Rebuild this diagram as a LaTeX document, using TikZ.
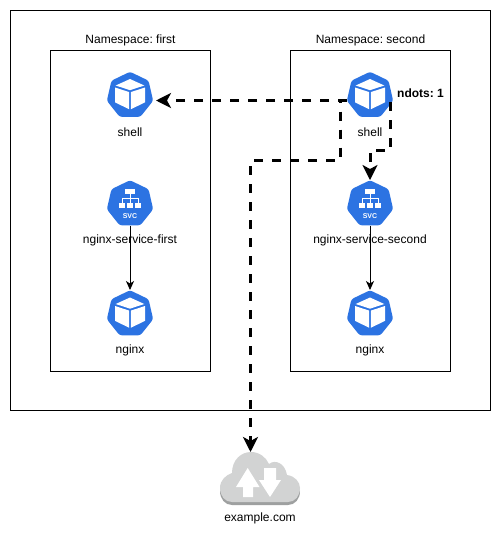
\documentclass[tikz,border=0pt]{standalone}
\usepackage{fontspec}
\setmainfont{Liberation Sans}
\frenchspacing
\definecolor{k8sblue}{RGB}{44,115,226}
\definecolor{cloudgrey}{RGB}{210,211,211}
\definecolor{cloudedge}{RGB}{158,160,160}
\usetikzlibrary{positioning,shapes.geometric,arrows.meta}

\tikzset{
  pics/podcube/.style={code={
    \fill[white] (0,-16.5) -- (14.3,-10) -- (0,-5.3) -- (-14.3,-10) -- cycle;
    \fill[white] (-15,-8) -- (-.8,-3.4) -- (-.8,13.8) -- (-15,6.8) -- cycle;
    \fill[white] (15,-8) -- (.8,-3.4) -- (.8,13.8) -- (15,6.8) -- cycle;
  }},
  pics/svctree/.style={code={
    \fill[white] (-4.6,-14.6) rectangle (4.6,-9.6);
    \foreach \x in {-8,0,8}
      \fill[white] (\x-2.9,-1) rectangle (\x+2.9,4.4);
    \draw[white,line width=.8pt] (0,-9.6) -- (0,-1) (-8,-1) -- (-8,-5.4) -- (8,-5.4) -- (8,-1);
    \node[white,inner sep=0,font=\bfseries\fontsize{7}{7}\selectfont] (svctext) at (0,11.6) {SVC};
  }},
  pics/cloudbody/.style={code={
    \fill (232,502) .. controls (225,502) and (220,496) .. (220,488)
      .. controls (220,480) and (226,475) .. (232,473)
      .. controls (232,460) and (241,452) .. (251,452)
      .. controls (259,452) and (266,457) .. (269,464)
      .. controls (275,459) and (285,463) .. (287,475)
      .. controls (295,476) and (300,482) .. (300,488)
      .. controls (300,496) and (295,502) .. (288,502) -- cycle;
  }}
}

\begin{document}
\begin{tikzpicture}[x=1pt,y=-1pt,
  every node/.style={font=\fontsize{12}{14}\selectfont},
  boxnode/.style={draw,line width=1pt,inner sep=0},
  iconnode/.style={regular polygon,regular polygon sides=7,fill=k8sblue,
    minimum size=47.5pt,inner sep=0,rounded corners=2.5pt},
  flow/.style={line width=.9pt,-{Stealth[length=9pt,width=8pt,inset=2.5pt]}},
  dashflow/.style={line width=3pt,dash pattern=on 9pt off 9pt,
    -{Stealth[length=15pt,width=15pt,inset=4pt]}},
  arrowshape/.style={fill=white}
]
\useasboundingbox (0,0) rectangle (502,536);

% Boxes
\node[boxnode,minimum width=480pt,minimum height=400pt] (cluster) at (250.5,210.5) {};
\node[boxnode,minimum width=160pt,minimum height=321pt,
  label={[yshift=-.5pt]above:Namespace: first}] (nsfirst) at (130.5,210.5) {};
\node[boxnode,minimum width=160pt,minimum height=321pt,
  label={[yshift=-.5pt]above:Namespace: second}] (nssecond) at (370.5,210.5) {};

% Namespace: first
\node[iconnode] (shellfirst) at (130,95.5) {};
\node[iconnode] (svcfirst) at (130,204) {};
\node[iconnode] (podfirst) at (130,314) {};
\pic at (shellfirst) {podcube};
\pic at (svcfirst) {svctree};
\pic at (podfirst) {podcube};

% Namespace: second
\node[iconnode] (shellsecond) at (370,95.5) {};
\node[iconnode] (svcsecond) at (370,204) {};
\node[iconnode] (podsecond) at (370,314) {};
\pic at (shellsecond) {podcube};
\pic at (svcsecond) {svctree};
\pic at (podsecond) {podcube};

% Cloud
\begin{scope}[cloudedge,yshift=-3pt]
\pic {cloudbody};
\end{scope}
\begin{scope}[cloudgrey]
\pic {cloudbody};
\end{scope}
\fill[arrowshape] (247.7,468) -- (259.5,487) -- (253,487) -- (253,497) -- (243,497) -- (243,487) -- (236,487) -- cycle;
\fill[arrowshape] (270,497) -- (281,480) -- (276,480) -- (276,468) -- (264,468) -- (264,480) -- (259,480) -- cycle;
\coordinate (cloudtop) at (250.5,452);

% Edges
\coordinate (portleft) at (347,100.5);
\coordinate (portright) at (390.7,102);
\coordinate (shellport) at (156,100.5);
\draw[flow] (svcfirst.south) -- (podfirst.north);
\draw[flow] (svcsecond.south) -- (podsecond.north);
\draw[dashflow] (portleft) -- (shellport);
\draw[dashflow] (portleft) -| (340,160) -| (cloudtop);
\draw[dashflow] (portright) |- (370,150) -- (svcsecond.north);

% Labels
\node (shelllabela) at (130,132) {shell};
\node (svclabela) at (130,240) {nginx-service-first};
\node (nginxlabela) at (130,350) {nginx};
\node (shelllabelb) at (370,132) {shell};
\node (svclabelb) at (370,240) {nginx-service-second};
\node (nginxlabelb) at (370,350) {nginx};
\node[font=\bfseries\fontsize{12}{14}\selectfont,anchor=west,inner sep=0] (ndots) at (397,93) {ndots: 1};
\node (cloudlabel) at (260,518) {example.com};
\end{tikzpicture}
\end{document}
